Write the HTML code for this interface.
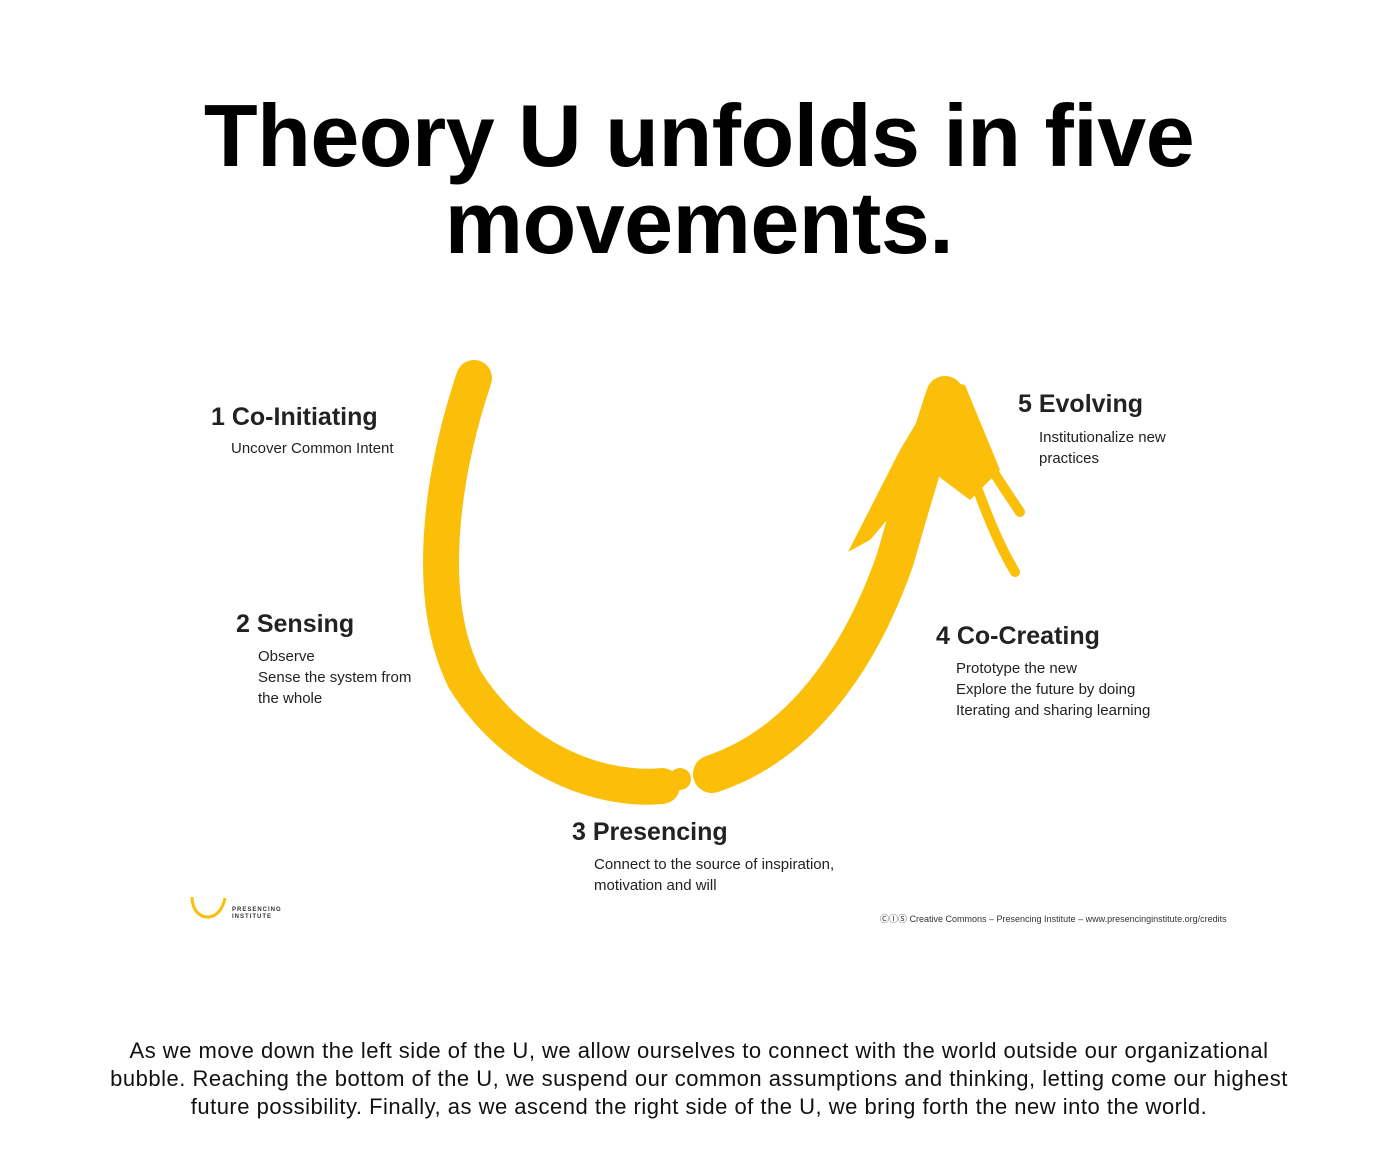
<!DOCTYPE html>
<html><head><meta charset="utf-8"><style>
body{margin:0;width:1398px;height:1162px;background:#fff;font-family:"Liberation Sans",sans-serif;position:relative;overflow:hidden;color:#111}
.t{position:absolute;left:0;width:1398px;text-align:center;font-weight:bold;font-size:88px;letter-spacing:-0.5px;line-height:87px;top:92px;color:#000}
.h{position:absolute;font-weight:bold;font-size:25px;color:#222;white-space:nowrap}
.s{position:absolute;font-size:15px;line-height:21px;color:#222;white-space:nowrap}
.p{position:absolute;left:0;width:1398px;top:1037px;text-align:center;font-size:22px;letter-spacing:0.5px;line-height:28px;color:#111}
</style></head><body>
<div class="t">Theory U unfolds in five<br>movements.</div>
<svg width="1398" height="1162" style="position:absolute;left:0;top:0">
<g fill="none" stroke="#FBBF0A" stroke-linecap="round">
<path d="M474,378 C440,480 425,600 465,680 C515,760 600,792 662,786" stroke-width="36"/>
<path d="M712,774 C800,745 860,660 895,560 C915,490 930,440 945,395" stroke-width="38"/>
<path d="M955,430 C975,480 990,530 1015,572" stroke-width="10"/>
<path d="M962,420 C985,460 1005,490 1020,512" stroke-width="10"/>
</g>
<polygon points="942,380 965,385 1000,470 970,500 930,470 870,540 848,552 900,450" fill="#FBBF0A"/>
<circle cx="680" cy="779" r="11" fill="#FBBF0A"/>
<path d="M192,897 C192,922 220,925 225,898" fill="none" stroke="#FBBF0A" stroke-width="3"/>
</svg>
<div class="h" style="left:211px;top:403px">1 Co-Initiating</div>
<div class="s" style="left:231px;top:438px">Uncover Common Intent</div>
<div class="h" style="left:236px;top:610px">2 Sensing</div>
<div class="s" style="left:258px;top:646px">Observe<br>Sense the system from<br>the whole</div>
<div class="h" style="left:572px;top:818px">3 Presencing</div>
<div class="s" style="left:594px;top:854px">Connect to the source of inspiration,<br>motivation and will</div>
<div class="h" style="left:936px;top:622px">4 Co-Creating</div>
<div class="s" style="left:956px;top:658px">Prototype the new<br>Explore the future by doing<br>Iterating and sharing learning</div>
<div class="h" style="left:1018px;top:390px">5 Evolving</div>
<div class="s" style="left:1039px;top:427px">Institutionalize new<br>practices</div>
<div style="position:absolute;left:232px;top:907px;font-size:6px;font-weight:bold;line-height:7px;letter-spacing:1px;color:#333">PRESENCING<br>INSTITUTE</div>
<div style="position:absolute;left:880px;top:912px;font-size:9px;color:#333;white-space:nowrap">ⒸⒾⓈ Creative Commons – Presencing Institute – www.presencinginstitute.org/credits</div>
<div class="p">As we move down the left side of the U, we allow ourselves to connect with the world outside our organizational<br>bubble. Reaching the bottom of the U, we suspend our common assumptions and thinking, letting come our highest<br>future possibility. Finally, as we ascend the right side of the U, we bring forth the new into the world.</div>
</body></html>
